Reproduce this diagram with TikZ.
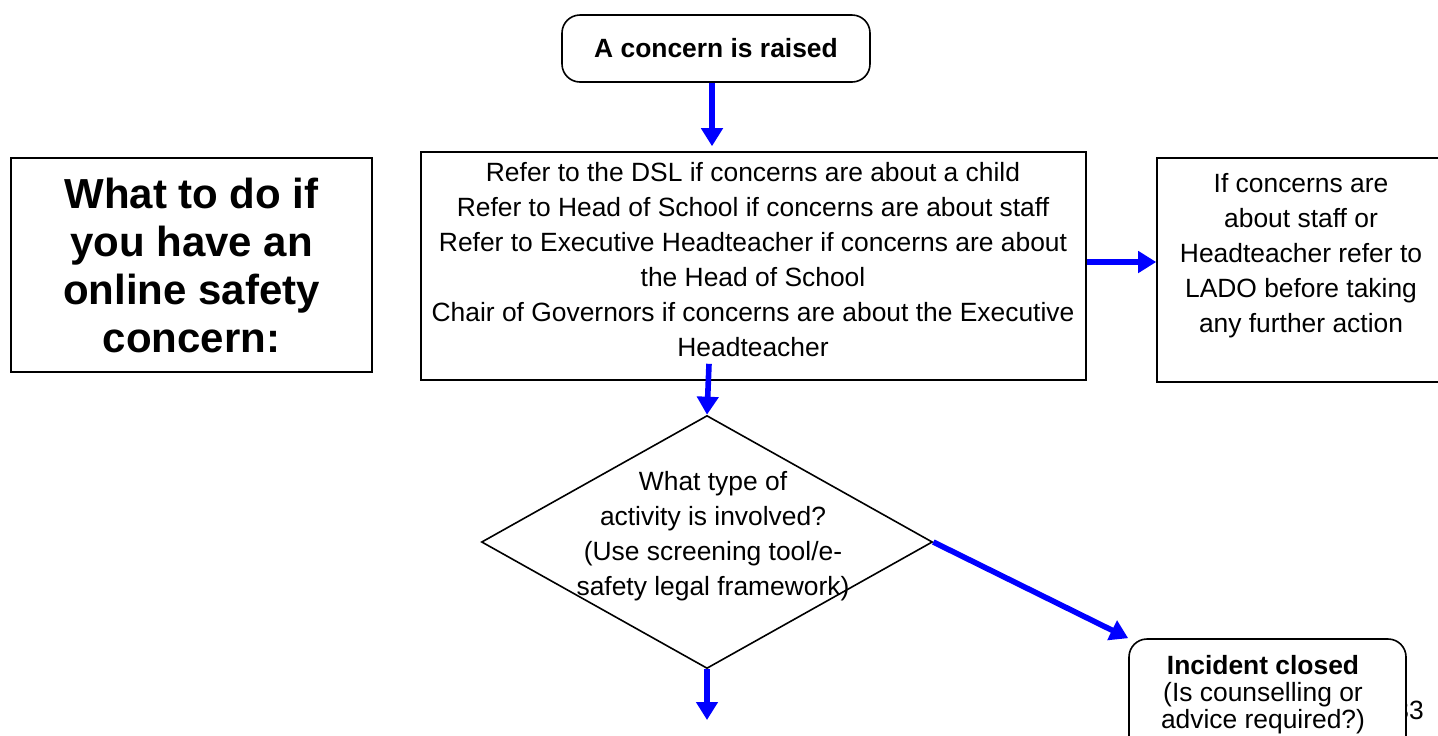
\documentclass[tikz,border=0pt]{standalone}
\usepackage{fontspec}
\setmainfont{Liberation Sans}
\usetikzlibrary{shapes.geometric,arrows.meta}

\begin{document}
\begin{tikzpicture}[x=0.5pt,y=-0.5pt,
    box/.style={draw,line width=0.8pt,inner sep=0pt},
    roundbox/.style={box,rounded corners=9pt,fill=white},
    txt/.style={align=center,font=\fontsize{13.2}{17.5}\selectfont},
    flow/.style={draw=blue,line width=2.8pt,-{Triangle[length=9pt,width=10.5pt]}}]

\clip (0,0) rectangle (1438,735);

\node[box,minimum width=180.5pt,minimum height=107pt] (heading) at (191.5,265) {};
\node[align=center,font=\bfseries\fontsize{21}{24}\selectfont] (headingtext) at (heading.center) {What to do if\\you have an\\online safety\\concern:};

\node[roundbox,minimum width=154pt,minimum height=33.5pt,font=\bfseries\fontsize{13.2}{17.5}\selectfont] (start) at (716,48.5) {A concern is raised};

\node[box,minimum width=332.5pt,minimum height=114pt] (refer) at (753.5,266) {};
\node[txt] (refertext) at (753,259.5) {Refer to the DSL if concerns are about a child\\Refer to Head of School if concerns are about staff\\Refer to Executive Headteacher if concerns are about\\the Head of School\\Chair of Governors if concerns are about the Executive\\Headteacher};

\node[box,minimum width=144pt,minimum height=112pt] (lado) at (1301,270) {};
\node[txt] (ladotext) at (1301,256) {If concerns are\\about staff or\\Headteacher refer to\\LADO before taking\\any further action};

\node[box,diamond,minimum width=225.5pt,minimum height=126.5pt] (activity) at (707,542) {};
\node[txt] (activitytext) at (713,536) {What type of\\activity is involved?\\(Use screening tool/e-\\safety legal framework)};

\node[font=\fontsize{13.2}{15}\selectfont] (pagenum) at (1409,710) {33};
\node[roundbox,minimum width=138.5pt,minimum height=60.5pt] (incident) at (1267.5,699.5) {};
\node[align=center,font=\fontsize{13.2}{13.5}\selectfont] (incidenttext) at (1263,695) {\textbf{Incident closed}\\(Is counselling or\\advice required?)};

\coordinate (next) at (707,720);

\draw[flow,shorten >=2.5pt] ([xshift=-2pt]start.south) -- ([xshift=-2pt]start.south |- refer.north);
\draw[flow] ([yshift=2pt]refer.east) -- ([yshift=2pt]refer.east -| lado.west);
\draw[flow] ([shift={(-44.5,-17)}]refer.south) -- (activity.north);
\draw[flow] (activity.east) -- (incident.north west);
\draw[flow] (activity.south) -- (next);

\end{tikzpicture}
\end{document}
